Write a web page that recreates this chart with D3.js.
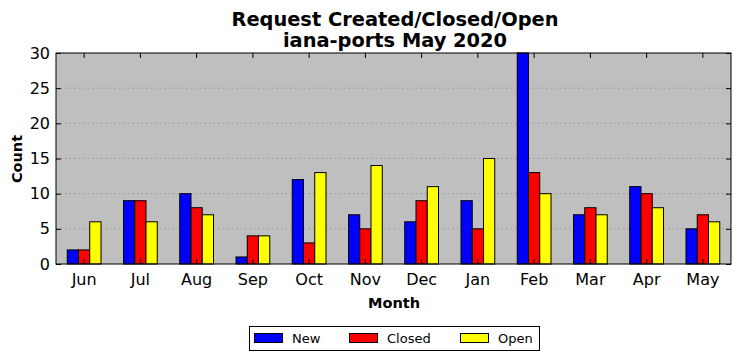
<!DOCTYPE html>
<html><head><meta charset="utf-8">
<script src="https://cdn.jsdelivr.net/npm/d3@7"></script>
<style>body{margin:0;background:#fff;}svg{display:block;font-family:"DejaVu Sans",sans-serif;}</style>
</head><body>
<svg id="c" width="742" height="361"></svg>
<script>
const months = ["Jun","Jul","Aug","Sep","Oct","Nov","Dec","Jan","Feb","Mar","Apr","May"];
const newVals = [2,9,10,1,12,7,6,9,30,7,11,5];
const closedVals = [2,9,8,4,3,5,9,5,13,8,10,7];
const openVals = [6,6,7,4,13,14,11,15,10,7,8,6];
const seriesNames = ["New","Closed","Open"];
const seriesColors = ["#0000ff","#ff0000","#ffff00"];
const yTicks = [0,5,10,15,20,25,30];

const svg = d3.select("#c");
const m = {l:56, r:731, t:53, b:264};
const x = d3.scaleBand().domain(months).range([m.l, m.r]);
const xs = d3.scaleBand().domain(seriesNames).range([x.bandwidth()*0.2, x.bandwidth()*0.8]);
const y = d3.scaleLinear().domain([0,30]).range([m.b, m.t]);
const series = [newVals, closedVals, openVals];

svg.append("rect").attr("x",m.l).attr("y",m.t).attr("width",m.r-m.l).attr("height",m.b-m.t).attr("fill","#bfbfbf");

// grid
svg.append("g").selectAll("line").data(yTicks.filter(d=>d>0&&d<30)).join("line")
 .attr("x1",m.l).attr("x2",m.r).attr("y1",d=>y(d)).attr("y2",d=>y(d))
 .attr("stroke","#8a8a8a").attr("stroke-width",0.8).attr("stroke-dasharray","1.5,3");

// bars
series.forEach((vals,si)=>{
  svg.append("g").selectAll("rect").data(vals).join("rect")
   .attr("x",(d,i)=>x(months[i])+xs(seriesNames[si]))
   .attr("width",xs.bandwidth())
   .attr("y",d=>y(d)).attr("height",d=>y(0)-y(d))
   .attr("fill",seriesColors[si]).attr("stroke","#000").attr("stroke-width",1);
});

// frame
svg.append("rect").attr("x",m.l).attr("y",m.t).attr("width",m.r-m.l).attr("height",m.b-m.t).attr("fill","none").attr("stroke","#000").attr("stroke-width",1);

// axes
const xb = svg.append("g").attr("transform",`translate(0,${m.b})`).call(d3.axisBottom(x).tickSize(-5).tickPadding(10));
const xt = svg.append("g").attr("transform",`translate(0,${m.t})`).call(d3.axisTop(x).tickSize(-5).tickFormat(""));
const yl = svg.append("g").attr("transform",`translate(${m.l},0)`).call(d3.axisLeft(y).tickValues(yTicks).tickSize(-5).tickPadding(6));
const yr = svg.append("g").attr("transform",`translate(${m.r},0)`).call(d3.axisRight(y).tickValues(yTicks).tickSize(-5).tickFormat(""));
[xb,xt,yl,yr].forEach(g=>{g.select(".domain").remove();g.selectAll("line").attr("stroke","#000");});
xb.selectAll("text").attr("font-size",16).attr("fill","#000").attr("font-family","DejaVu Sans");
yl.selectAll("text").attr("font-size",16).attr("fill","#000").attr("font-family","DejaVu Sans");

// titles
svg.append("text").attr("x",395).attr("y",26).attr("text-anchor","middle").attr("font-size",19.4).attr("font-weight","bold").text("Request Created/Closed/Open");
svg.append("text").attr("x",395).attr("y",47).attr("text-anchor","middle").attr("font-size",19.4).attr("font-weight","bold").text("iana-ports May 2020");
svg.append("text").attr("x",394).attr("y",308).attr("text-anchor","middle").attr("font-size",14.5).attr("font-weight","bold").text("Month");
svg.append("text").attr("transform","translate(22,159) rotate(-90)").attr("text-anchor","middle").attr("font-size",14.5).attr("font-weight","bold").text("Count");

// legend
const lg = svg.append("g");
lg.append("rect").attr("x",249.5).attr("y",326.5).attr("width",290).attr("height",24).attr("fill","#fff").attr("stroke","#000");
const lx = [254,349,460];
seriesNames.forEach((n,i)=>{
  lg.append("rect").attr("x",lx[i]+0.5).attr("y",333.5).attr("width",28).attr("height",9).attr("fill",seriesColors[i]).attr("stroke","#000");
  lg.append("text").attr("x",lx[i]+38).attr("y",343).attr("font-size",13).text(n);
});
</script>
</body></html>
